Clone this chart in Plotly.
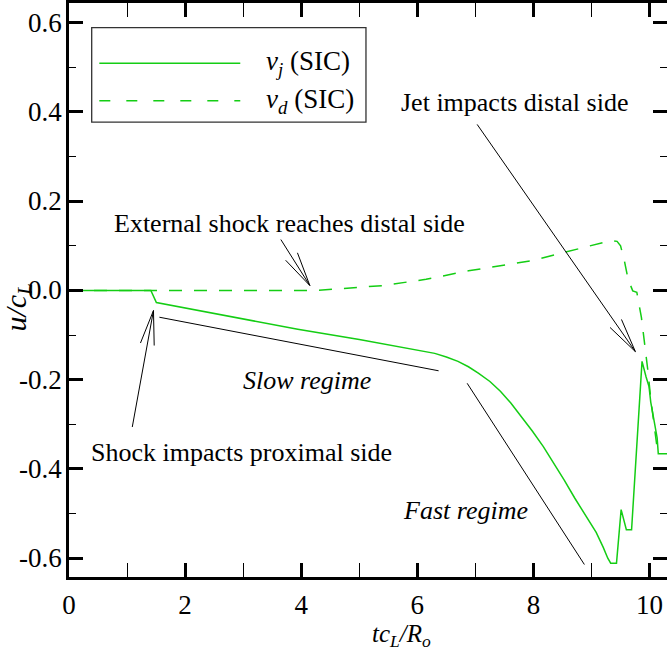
import math
import plotly.graph_objects as go

# ---------------- data ----------------
t_vj = [0, 1.41, 1.505, 2.5, 3.94, 5.0, 6.04, 6.3, 6.5, 6.7, 6.88, 7.05, 7.25, 7.43,
        7.61, 7.8, 7.98, 8.17, 8.35, 8.53, 8.71, 8.9, 9.08, 9.2, 9.28, 9.33, 9.43,
        9.51, 9.60, 9.69, 9.87, 9.94, 9.99, 10.02, 10.07, 10.10, 10.13, 10.15, 10.4]
u_vj = [0, 0, -0.027, -0.052, -0.087, -0.110, -0.134, -0.141, -0.149, -0.159, -0.171,
        -0.185, -0.204, -0.226, -0.252, -0.283, -0.315, -0.350, -0.386, -0.425, -0.465,
        -0.505, -0.542, -0.575, -0.600, -0.611, -0.611, -0.491, -0.536, -0.536,
        -0.159, -0.194, -0.215, -0.25, -0.29, -0.31, -0.33, -0.366, -0.366]

t_vd = [0, 4.24, 4.68, 5.41, 6.15, 6.88, 7.98, 8.57, 9.08, 9.34, 9.44, 9.50, 9.56, 9.63,
        9.71, 9.78, 9.86, 9.92, 9.97, 10.02, 10.08, 10.12, 10.4]
u_vd = [0, 0, 0.004, 0.011, 0.025, 0.044, 0.067, 0.086, 0.104, 0.112, 0.110, 0.100,
        0.070, 0.025, -0.001, -0.004, -0.061, -0.123, -0.179, -0.243, -0.30, -0.343, -0.343]

series_names = ["<i>v</i><sub><i>j</i></sub> (SIC)", "<i>v</i><sub><i>d</i></sub> (SIC)"]

x_tickvals = [0, 2, 4, 6, 8, 10]
x_ticktext = ["0", "2", "4", "6", "8", "10"]
y_tickvals = [-0.6, -0.4, -0.2, 0.0, 0.2, 0.4, 0.6]
y_ticktext = ["-0.6", "-0.4", "-0.2", "0.0", "0.2", "0.4", "0.6"]

# annotation texts and positions (data coords)
label_texts = ["Jet impacts distal side", "External shock reaches distal side",
               "<i>Slow regime</i>", "<i>Fast regime</i>", "Shock impacts proximal side"]
label_x = [7.665, 3.80, 4.10, 6.825, 2.97]
label_y = [0.422, 0.149, -0.201, -0.493, -0.362]

# arrows: (tail_x, tail_y, tip_x, tip_y)
arrows = [(7.03, 0.372, 9.755, -0.137),
          (3.649, 0.114, 4.148, 0.011),
          (1.09, -0.306, 1.455, -0.045)]
# guide lines without heads
guides = [(1.557, -0.060, 6.366, -0.180),
          (6.858, -0.208, 8.877, -0.614)]

# ---------------- layout constants ----------------
W, H = 667, 651
ML, MR, MT, MB = 69, 0, 3, 74
XR = [0, 10.3]
YR = [-0.642, 0.644]
GREEN = "rgb(20,205,20)"
FONT = "Liberation Serif"
pxx = (W - ML - MR) / (XR[1] - XR[0])
pxy = (H - MT - MB) / (YR[1] - YR[0])

fig = go.Figure()
fig.add_trace(go.Scatter(x=t_vj, y=u_vj, mode="lines", name=series_names[0],
                         line=dict(color=GREEN, width=1.5), showlegend=False))
fig.add_trace(go.Scatter(x=t_vd, y=u_vd, mode="lines", name=series_names[1],
                         line=dict(color=GREEN, width=1.5, dash="13px,12px"), showlegend=False))
fig.add_trace(go.Scatter(x=[None], y=[None], yaxis="y2", showlegend=False, hoverinfo="skip"))

shapes = []
# arrows with open V heads
for (x0, y0, x1, y1) in arrows:
    shapes.append(dict(type="line", xref="x", yref="y", x0=x0, y0=y0, x1=x1, y1=y1,
                       line=dict(color="black", width=1)))
    dxp = (x0 - x1) * pxx
    dyp = (y0 - y1) * pxy
    ang = math.atan2(dyp, dxp)
    for s in (-1, 1):
        a = ang + s * math.radians(11.5)
        bx = x1 + 35 * math.cos(a) / pxx
        by = y1 + 35 * math.sin(a) / pxy
        shapes.append(dict(type="line", xref="x", yref="y", x0=x1, y0=y1, x1=bx, y1=by,
                           line=dict(color="black", width=1)))
for (x0, y0, x1, y1) in guides:
    shapes.append(dict(type="line", xref="x", yref="y", x0=x0, y0=y0, x1=x1, y1=y1,
                       line=dict(color="black", width=1)))

# legend box and samples
leg_box = (0.391, 0.377, 5.115, 0.589)
leg_line_x = (0.522, 2.95)
leg_line_y = [0.509, 0.4248]
leg_text_x = 3.36
shapes.append(dict(type="rect", xref="x", yref="y", x0=leg_box[0], y0=leg_box[1],
                   x1=leg_box[2], y1=leg_box[3], line=dict(color="#333333", width=1.3)))
shapes.append(dict(type="line", xref="x", yref="y", x0=leg_line_x[0], x1=leg_line_x[1],
                   y0=leg_line_y[0], y1=leg_line_y[0], line=dict(color=GREEN, width=1.5)))
shapes.append(dict(type="line", xref="x", yref="y", x0=leg_line_x[0], x1=leg_line_x[1],
                   y0=leg_line_y[1], y1=leg_line_y[1],
                   line=dict(color=GREEN, width=1.5, dash="11px,16px")))

annotations = []
for txt, lx, ly in zip(label_texts, label_x, label_y):
    annotations.append(dict(text=txt, x=lx, y=ly, xref="x", yref="y", showarrow=False,
                            xanchor="center", yanchor="middle",
                            font=dict(family=FONT, size=26, color="black")))
for name, ly in zip(series_names, leg_line_y):
    annotations.append(dict(text=name, x=leg_text_x, y=ly, xref="x", yref="y", showarrow=False,
                            xanchor="left", yanchor="middle",
                            font=dict(family=FONT, size=27, color="black")))
# y tick labels placed just left of the axis
for tv, tt in zip(y_tickvals, y_ticktext):
    annotations.append(dict(text=tt, x=-0.008, y=tv, xref="paper", yref="y", showarrow=False,
                            xanchor="right", yanchor="middle",
                            font=dict(family=FONT, size=27, color="black")))
annotations.append(dict(text="<i>tc</i><sub><i>L</i></sub><i>/R</i><sub><i>o</i></sub>",
                        x=5.72, y=-0.102, xref="x", yref="paper", showarrow=False,
                        xanchor="center", yanchor="middle",
                        font=dict(family=FONT, size=25, color="black")))
annotations.append(dict(text="<i>u/c</i><sub><i>L</i></sub>", textangle=-90,
                        x=-0.085, y=-0.038, xref="paper", yref="y", showarrow=False,
                        xanchor="center", yanchor="middle",
                        font=dict(family=FONT, size=30, color="black")))

axis_common = dict(showgrid=False, zeroline=False, ticks="inside", tickcolor="black",
                   ticklen=14, tickwidth=2.5, linecolor="black", linewidth=3,
                   tickfont=dict(family=FONT, size=27, color="black"))

fig.update_layout(
    width=W, height=H, margin=dict(l=ML, r=MR, t=MT, b=MB),
    paper_bgcolor="white", plot_bgcolor="white",
    font=dict(family=FONT),
    xaxis=dict(range=XR, tickmode="array", tickvals=x_tickvals, ticktext=x_ticktext,
               showline=True, mirror="allticks", ticklabelstandoff=2,
               minor=dict(tickmode="linear", tick0=0, dtick=1, ticks="inside",
                          ticklen=7, tickwidth=1.3, tickcolor="black", showgrid=False),
               **axis_common),
    yaxis=dict(range=YR, tickmode="array", tickvals=y_tickvals, showticklabels=False,
               showline=True, mirror=False,
               minor=dict(tickmode="linear", tick0=0, dtick=0.1, ticks="inside",
                          ticklen=7, tickwidth=1.3, tickcolor="black", showgrid=False),
               **axis_common),
    yaxis2=dict(range=YR, overlaying="y", side="right", anchor="x", showline=False,
                tickmode="array", tickvals=y_tickvals, showticklabels=False,
                showgrid=False, zeroline=False, ticks="inside", tickcolor="black",
                ticklen=14, tickwidth=2.5,
                minor=dict(tickmode="linear", tick0=0, dtick=0.1, ticks="inside",
                           ticklen=7, tickwidth=1.3, tickcolor="black", showgrid=False)),
    shapes=shapes, annotations=annotations, showlegend=False,
)

fig.write_html("out.html")
